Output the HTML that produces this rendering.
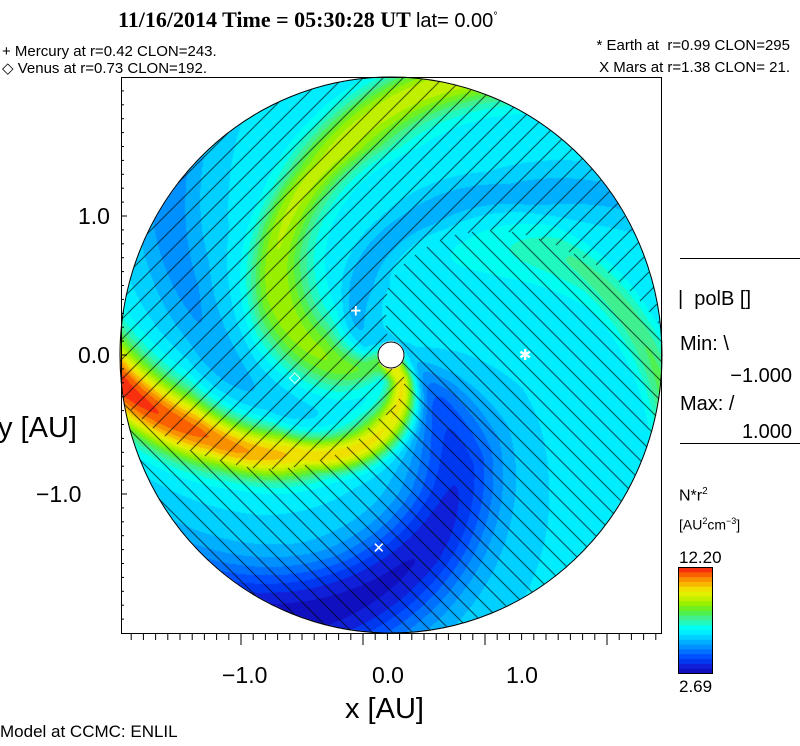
<!DOCTYPE html>
<html><head><meta charset="utf-8">
<style>
body{margin:0;background:#fff;width:800px;height:746px;overflow:hidden;position:relative;font-family:"Liberation Sans",sans-serif;}
.t{position:absolute;white-space:nowrap;color:#000;}
</style></head>
<body>
<div class="t" style="left:118px;top:7px;font:bold 22px 'Liberation Serif',serif;">11/16/2014 Time = 05:30:28 UT <span style="font:20px 'Liberation Sans',sans-serif">lat= 0.00<sup style="font-size:11px">°</sup></span></div>
<div class="t" style="left:2px;top:43px;font-size:15px;">+ Mercury at r=0.42 CLON=243.</div>
<div class="t" style="left:2px;top:59px;font-size:15px;">◇ Venus at r=0.73 CLON=192.</div>
<div class="t" style="right:10px;top:37px;font-size:15px;">* Earth at &nbsp;r=0.99 CLON=295</div>
<div class="t" style="right:10px;top:59px;font-size:15px;">X Mars at r=1.38 CLON= 21.</div>

<canvas id="cv" width="800" height="746" style="position:absolute;left:0;top:0"></canvas>
<svg id="ov" width="800" height="746" style="position:absolute;left:0;top:0"></svg>

<div class="t" style="left:78px;top:203px;font-size:23px;">1.0</div>
<div class="t" style="left:78px;top:342px;font-size:23px;">0.0</div>
<div class="t" style="left:36px;top:481px;font-size:23px;">−1.0</div>
<div class="t" style="left:-2px;top:412px;font-size:29px;">y [AU]</div>
<div class="t" style="left:222px;top:662px;font-size:23px;">−1.0</div>
<div class="t" style="left:372px;top:662px;font-size:23px;">0.0</div>
<div class="t" style="left:506px;top:662px;font-size:23px;">1.0</div>
<div class="t" style="left:345px;top:693px;font-size:29px;">x [AU]</div>
<div class="t" style="left:0px;top:722px;font-size:17px;">Model at CCMC: ENLIL</div>

<div class="t" style="left:678px;top:288px;font-size:20px;">|&nbsp;&nbsp;polB []</div>
<div class="t" style="left:680px;top:333px;font-size:20px;">Min: \</div>
<div class="t" style="right:8px;top:365px;font-size:20px;">−1.000</div>
<div class="t" style="left:680px;top:393px;font-size:20px;">Max: /</div>
<div class="t" style="right:8px;top:421px;font-size:20px;">1.000</div>
<div class="t" style="left:679px;top:486px;font-size:16px;">N*r<sup style="font-size:10px">2</sup></div>
<div class="t" style="left:679px;top:516px;font-size:14px;">[AU<sup style="font-size:9px">2</sup>cm<sup style="font-size:9px">−3</sup>]</div>
<div class="t" style="left:679px;top:548px;font-size:17px;">12.20</div>
<div class="t" style="left:679px;top:677px;font-size:17px;">2.69</div>

<script>
// ---- data ----
const radiusKnots = [0.2, 0.5, 1.0, 1.5, 2.0];
const baseDensity = 6.2;
const armAAngle = [-65, -92, -135, -158, -174];
const armAAmp = [4.5, 3.9, 4.2, 5.2, 5.9];
const armAWidth = [0.07, 0.13, 0.17, 0.21, 0.24];
const armBAngle = [208, 180, 148, 106, 78];
const armBAmp = [2.0, 2.6, 2.9, 3.2, 3.3];
const armBWidth = [0.08, 0.18, 0.27, 0.3, 0.3];
const armCAngle = [90, 70, 45, 26, -6];
const armCAmp = [0, 0, 0.6, 1.3, 1.8];
const armCWidth = [0.2, 0.2, 0.2, 0.22, 0.22];
const armDAngle = [-40, -47, -62, -85, -110];
const armDAmp = [-1.2, -2.0, -2.6, -3.1, -3.3];
const armDWidth = [0.08, 0.16, 0.3, 0.42, 0.6];
const armEAngle = [150, 118, 78, 50, 35];
const armEAmp = [-0.4, -0.9, -0.9, -0.8, -0.7];
const armEWidth = [0.08, 0.1, 0.12, 0.13, 0.14];
const armFAngle = [260, 230, 195, 165, 145];
const armFAmp = [0, 0, -0.5, -1.0, -1.2];
const armFWidth = [0.2, 0.2, 0.22, 0.25, 0.3];
const polLowAngle = [-60, -105, -128, -150, -170];
const polHighAngle = [100, 92, 60, 30, 6];
const cmin = 2.69, cmax = 12.20;
const cmap = ['#1010c0','#1020d8','#0038f0','#0050ff','#0070ff','#0090ff','#00b0ff','#00d0ff','#00ecff','#00fff0','#20f8c0','#40f090','#50f050','#70f020','#98f000','#c0f000','#e0f000','#f0e000','#f8b800','#f89000','#f86000','#f83010'];
const planetNames = ['mercury','venus','earth','mars'];
const planetX = [-0.26, -0.71, 0.99, -0.09];
const planetY = [0.32, -0.16, 0.0, -1.39];
const planetSym = ['+','◇','✱','✕'];

// ---- axes ----
const cx = 391, cy = 355, sx = 135.5, sy = 139;
const X = v => cx + v * sx, Y = v => cy - v * sy;
function interp(arr, r){
  if (r <= radiusKnots[0]) return arr[0];
  for (let i = 1; i < radiusKnots.length; i++) if (r <= radiusKnots[i]) {
    const t = (r - radiusKnots[i-1]) / (radiusKnots[i] - radiusKnots[i-1]);
    return arr[i-1] + t * (arr[i] - arr[i-1]);
  }
  return arr[arr.length-1];
}
function wrap(d){ while (d > 180) d -= 360; while (d < -180) d += 360; return d; }
const arms = [[armAAngle,armAAmp,armAWidth],[armBAngle,armBAmp,armBWidth],[armCAngle,armCAmp,armCWidth],[armDAngle,armDAmp,armDWidth],[armEAngle,armEAmp,armEWidth],[armFAngle,armFAmp,armFWidth]];
function density(r, th){
  let v = baseDensity;
  for (const [a, m, w] of arms) {
    const d = r * wrap(th - interp(a, r)) * Math.PI / 180;
    const ww = interp(w, r);
    v += interp(m, r) * Math.exp(-d * d / (2 * ww * ww));
  }
  return v;
}
const rgb = cmap.map(h => [parseInt(h.substr(1,2),16), parseInt(h.substr(3,2),16), parseInt(h.substr(5,2),16)]);
const cv = document.getElementById('cv'), ctx = cv.getContext('2d');
const img = ctx.createImageData(800, 746);
for (let py = 70; py < 640; py++) for (let px = 115; px < 668; px++) {
  const x = (px + 0.5 - cx) / sx, y = (cy - py - 0.5) / sy;
  const r = Math.hypot(x, y);
  if (r > 2.0 || r < 0.1) continue;
  const th = Math.atan2(y, x) * 180 / Math.PI;
  const v = density(r, th);
  let k = Math.floor((v - cmin) / (cmax - cmin) * cmap.length);
  k = Math.max(0, Math.min(cmap.length - 1, k));
  let c = rgb[k];
  const lo = interp(polLowAngle, r), hi = interp(polHighAngle, r);
  const neg = th >= lo && th <= hi;
  const m = neg ? (((px - py) % 20) + 20) % 20 : (px + py) % 20;
  if (m === 0) c = [0, 0, 0];
  const o = (py * 800 + px) * 4;
  img.data[o] = c[0]; img.data[o+1] = c[1]; img.data[o+2] = c[2]; img.data[o+3] = 255;
}
ctx.putImageData(img, 0, 0);

// ---- overlay ----
const NS = 'http://www.w3.org/2000/svg';
const ov = document.getElementById('ov');
function mk(tag, attrs){ const e = document.createElementNS(NS, tag); for (const k in attrs) e.setAttribute(k, attrs[k]); ov.appendChild(e); return e; }
const box = mk('rect', {x:121.5, y:77.5, width:540, height:556, fill:'none', stroke:'#000', 'stroke-width':1});


const edge = mk('ellipse', {cx:cx, cy:cy, rx:2*sx, ry:2*sy, fill:'none', stroke:'#000', 'stroke-width':1});


const sun = mk('ellipse', {cx:cx, cy:cy, rx:13, ry:13, fill:'#fff', stroke:'#000', 'stroke-width':1});


for (let k = -19; k <= 25; k++) {
  const tx = 363 + k * 12.2;
  if (tx < 125 || tx > 658) continue;
  const major = k % 10 === 0;
  const t = mk('line', {x1:tx, y1:633, x2:tx, y2:major ? 645 : 640, stroke:'#000'});
  
  
}
for (let k = -20; k <= 20; k++) {
  const ty = Y(k * 0.1);
  if (ty < 80 || ty > 631) continue;
  const t = mk('line', {x1:121, y1:ty, x2:k % 10 === 0 ? 127 : 124, y2:ty, stroke:'#000'});
  
  
}
for (let i = 0; i < planetNames.length; i++) {
  const t = mk('text', {x:X(planetX[i]), y:Y(planetY[i]) + 5, fill:'#fff', 'font-size':15, 'font-weight':'bold', 'text-anchor':'middle', 'font-family':'DejaVu Sans, sans-serif'});
  t.textContent = planetSym[i];
  
  
}
const l1 = mk('line', {x1:680, y1:258.5, x2:800, y2:258.5, stroke:'#000'});


const l2 = mk('line', {x1:680, y1:443.5, x2:800, y2:443.5, stroke:'#000'});


const cbx = 678, cby = 567, cbw = 34, cbh = 106;
for (let i = 0; i < cmap.length; i++) {
  const h = cbh / cmap.length;
  const r = mk('rect', {x:cbx, y:cby + cbh - (i + 1) * h, width:cbw, height:h + 0.5, fill:cmap[i]});
  
  
}
const cbf = mk('rect', {x:cbx + 0.5, y:cby + 0.5, width:cbw, height:cbh, fill:'none', stroke:'#000'});


</script>
</body></html>
